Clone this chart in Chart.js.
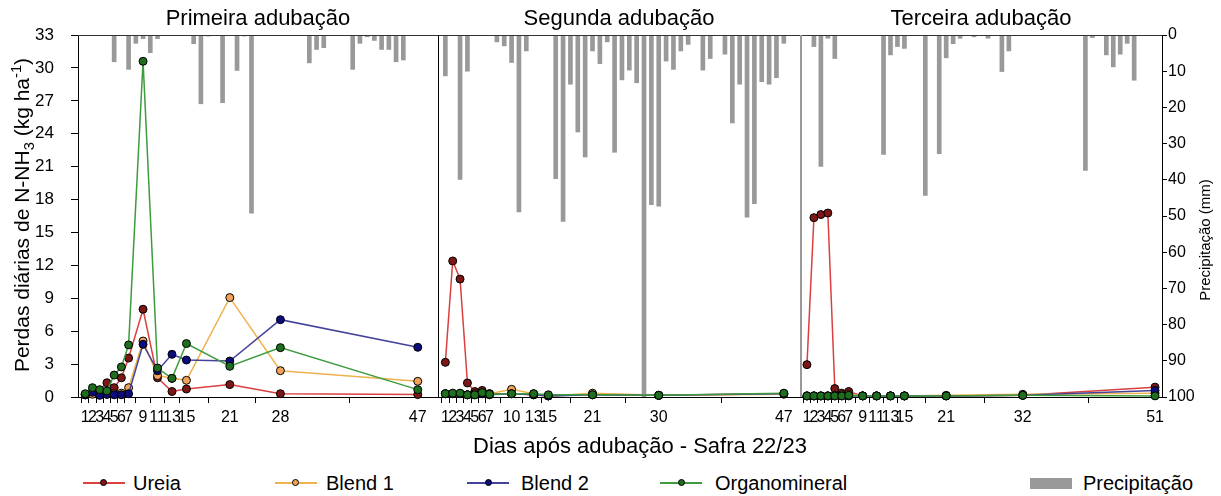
<!DOCTYPE html>
<html>
<head>
<meta charset="utf-8">
<script src="https://cdn.jsdelivr.net/npm/chart.js@4.4.0/dist/chart.umd.min.js"></script>
<style>
  body { margin: 0; background: #fff; font-family: "Liberation Sans", Arial, sans-serif; }
  #wrap { position: relative; width: 1221px; height: 496px; overflow: hidden; }
  canvas { position: absolute; top: 0; }
  .t { position: absolute; white-space: nowrap; color: #000; }
  .title { top: 5px; width: 300px; text-align: center; font-size: 22px; line-height: 26px; }
  .rot { transform: rotate(-90deg); text-align: center; }
  .rot sub, .rot sup { font-size: 70%; line-height: 0; }
  .leg { position: absolute; top: 471px; font-size: 20px; line-height: 24px; }
  .ln { position: absolute; width: 42px; height: 2px; top: 482px; }
  .dot { position: absolute; width: 5px; height: 5px; border-radius: 50%; border: 1px solid #000; top: 479px; }
</style>
</head>
<body>
<div id="wrap">
  <canvas id="c1" width="438" height="440" style="left:0"></canvas>
  <canvas id="c2" width="362" height="440" style="left:438px"></canvas>
  <canvas id="c3" width="421" height="440" style="left:800px"></canvas>

  <div class="t title" style="left:108px">Primeira adubação</div>
  <div class="t title" style="left:469px">Segunda adubação</div>
  <div class="t title" style="left:831px">Terceira adubação</div>

  <div class="t rot" style="left:-178px; top:203px; width:400px; height:24px; font-size:21px; line-height:24px">Perdas diárias de N-NH<sub>3</sub> (kg ha<sup>-1</sup>)</div>
  <div class="t rot" style="left:1105px; top:231px; width:200px; height:18px; font-size:15px; line-height:18px">Precipitação (mm)</div>
  <div class="t" style="left:440px; top:433px; width:400px; text-align:center; font-size:22px; line-height:26px">Dias após adubação - Safra 22/23</div>

  <div class="ln" style="left:83px; background:#d9403f"></div><div class="dot" style="left:100px; background:#7d1616"></div>
  <div class="leg" style="left:133px">Ureia</div>
  <div class="ln" style="left:275px; background:#f0b24e"></div><div class="dot" style="left:292px; background:#f2a35a"></div>
  <div class="leg" style="left:326px">Blend 1</div>
  <div class="ln" style="left:467px; background:#43439c"></div><div class="dot" style="left:485px; background:#0c0c7c"></div>
  <div class="leg" style="left:521px">Blend 2</div>
  <div class="ln" style="left:660px; background:#3e9b3e"></div><div class="dot" style="left:678px; background:#1f6d1f"></div>
  <div class="leg" style="left:715px">Organomineral</div>
  <div style="position:absolute; left:1030px; top:478px; width:42px; height:11px; background:#999"></div>
  <div class="leg" style="left:1083px">Precipitação</div>
</div>

<script>
// Primeira adubação
var days1    = [1, 2, 3, 4, 5, 6, 7, 9, 11, 13, 15, 21, 28, 47];
var ureiaP1  = [0.2, 0.5, 0.6, 1.3, 0.85, 1.75, 3.55, 8.0, 1.75, 0.5, 0.73, 1.13, 0.3, 0.22];
var blend1P1 = [0.2, 0.25, 0.2, 0.25, 0.3, 0.35, 0.85, 5.1, 1.95, 1.7, 1.52, 9.06, 2.4, 1.43];
var blend2P1 = [0.2, 0.43, 0.15, 0.24, 0.2, 0.2, 0.3, 4.8, 2.4, 3.89, 3.37, 3.28, 7.05, 4.53];
var organoP1 = [0.3, 0.85, 0.67, 0.55, 2.0, 2.74, 4.75, 30.6, 2.64, 1.7, 4.87, 2.8, 4.5, 0.67];
var rainDays1 = [5, 7, 8, 9, 10, 11, 16, 17, 18, 20, 22, 23, 24, 32, 33, 34, 38, 39, 40, 41, 42, 43, 44, 45];
var rain1     = [7.4, 9.5, 2.3, 1.0, 4.9, 1.0, 2.4, 19.0, 0.3, 18.7, 9.8, 0.3, 49.2, 7.7, 4.0, 3.5, 9.5, 2.3, 0.5, 1.5, 4.0, 4.0, 7.4, 6.9];

// Segunda adubação
var days2    = [1, 2, 3, 4, 5, 6, 7, 10, 13, 15, 21, 30, 47];
var ureiaP2  = [3.16, 12.4, 10.75, 1.28, 0.5, 0.6, 0.3, 0.3, 0.2, 0.1, 0.25, 0.15, 0.3];
var blend1P2 = [0.3, 0.3, 0.3, 0.2, 0.3, 0.4, 0.3, 0.7, 0.3, 0.1, 0.35, 0.15, 0.25];
var blend2P2 = [0.3, 0.3, 0.3, 0.2, 0.2, 0.3, 0.2, 0.3, 0.2, 0.1, 0.2, 0.15, 0.3];
var organoP2 = [0.3, 0.35, 0.35, 0.2, 0.2, 0.4, 0.25, 0.3, 0.3, 0.2, 0.2, 0.15, 0.35];
var rainDays2 = [1, 3, 4, 8, 9, 10, 11, 12, 16, 17, 18, 19, 20, 21, 22, 23, 24, 25, 26, 27, 28, 29, 30, 31, 32, 33, 34, 36, 37, 39, 40, 41, 42, 43, 44, 45, 46, 47];
var rain2     = [11.3, 39.9, 10.0, 1.9, 3.0, 7.6, 48.9, 4.4, 39.7, 51.5, 13.6, 26.8, 33.7, 4.4, 7.9, 1.9, 32.4, 12.4, 9.7, 13.2, 100, 46.9, 47.3, 7.2, 9.5, 4.4, 2.6, 9.7, 6.5, 5.3, 24.3, 13.6, 50.3, 46.6, 12.9, 13.6, 11.8, 2.3];

// Terceira adubação
var days3    = [1, 2, 3, 4, 5, 6, 7, 9, 11, 13, 15, 21, 32, 51];
var ureiaP3  = [2.95, 16.35, 16.63, 16.77, 0.77, 0.35, 0.5, 0.1, 0.1, 0.1, 0.1, 0.1, 0.15, 0.9];
var blend1P3 = [0.1, 0.1, 0.1, 0.1, 0.15, 0.2, 0.25, 0.1, 0.1, 0.1, 0.1, 0.15, 0.25, 0.35];
var blend2P3 = [0.1, 0.1, 0.1, 0.1, 0.1, 0.1, 0.1, 0.1, 0.1, 0.1, 0.1, 0.1, 0.15, 0.6];
var organoP3 = [0.1, 0.1, 0.1, 0.1, 0.1, 0.1, 0.15, 0.1, 0.1, 0.1, 0.1, 0.1, 0.15, 0.1];
var rainDays3 = [2, 3, 4, 5, 12, 13, 14, 15, 18, 20, 21, 22, 23, 25, 27, 29, 30, 41, 42, 44, 45, 46, 47, 48];
var rain3     = [3.2, 36.3, 0.9, 6.5, 33.0, 5.5, 3.2, 3.7, 44.3, 32.8, 6.3, 2.4, 0.9, 0.5, 0.9, 10.1, 4.4, 37.4, 0.7, 5.5, 8.8, 5.3, 2.3, 12.5];

Chart.defaults.font.family = '"Liberation Sans", Arial, sans-serif';
Chart.defaults.color = '#000';

var framePlugin = {
  id: 'frame',
  afterDraw: function(chart, args, opts) {
    var a = chart.chartArea, ctx = chart.ctx;
    ctx.save();
    ctx.strokeStyle = '#333';
    ctx.lineWidth = 1;
    ctx.beginPath();
    ctx.moveTo(a.left, a.top + 0.5);
    ctx.lineTo(a.right, a.top + 0.5);
    ctx.stroke();
    if (opts.leftColor) {
      ctx.strokeStyle = opts.leftColor;
      ctx.lineWidth = opts.leftWidth;
      ctx.beginPath();
      ctx.moveTo(a.left + opts.leftWidth / 2, a.top);
      ctx.lineTo(a.left + opts.leftWidth / 2, a.bottom);
      ctx.stroke();
    }
    ctx.restore();
  }
};

function points(days, vals) {
  return days.map(function(d, i) { return { x: d, y: vals[i] }; });
}

function lineSet(label, days, vals, line, fill, order) {
  return {
    type: 'line', label: label, data: points(days, vals), yAxisID: 'y',
    borderColor: line, backgroundColor: fill, borderWidth: 1.5,
    pointRadius: 4, pointBackgroundColor: fill, pointBorderColor: '#000', pointBorderWidth: 1,
    tension: 0, order: order, clip: false
  };
}

function fixWidth(w) {
  return function(s) {
    if (!s.options.display) { return; }
    s.width = w; s.paddingTop = 0; s.paddingBottom = 0;
  };
}

function panel(id, days, ureia, blend1, blend2, organo, rainDays, rain, xMax, showLeft, showRight, leftColor, leftWidth) {
  new Chart(document.getElementById(id), {
    type: 'line',
    data: {
      datasets: [
        lineSet('Organomineral', days, organo, '#3e9b3e', '#1f6d1f', 1),
        lineSet('Blend 2', days, blend2, '#43439c', '#0c0c7c', 2),
        lineSet('Blend 1', days, blend1, '#f0b24e', '#f2a35a', 3),
        lineSet('Ureia', days, ureia, '#d9403f', '#7d1616', 4),
        {
          type: 'bar', label: 'Precipitação', data: points(rainDays, rain), yAxisID: 'y2',
          backgroundColor: '#999', barThickness: 4, order: 10
        }
      ]
    },
    options: {
      responsive: false,
      animation: false,
      devicePixelRatio: 1,
      layout: { autoPadding: false, padding: { top: 35, left: 0, right: 0, bottom: 0 } },
      plugins: {
        legend: { display: false },
        tooltip: { enabled: false },
        frame: { leftColor: leftColor, leftWidth: leftWidth }
      },
      scales: {
        x: {
          type: 'linear', min: 0, max: xMax, offset: false,
          afterBuildTicks: function(s) { s.ticks = days.map(function(d) { return { value: d }; }); },
          ticks: { autoSkip: false, maxRotation: 0, minRotation: 0, padding: 5, font: { size: 16 }, color: '#000' },
          grid: { drawOnChartArea: false, drawTicks: true, tickLength: 6, color: '#000' },
          border: { color: '#000' },
          afterFit: function(s) { s.height = 43; s.paddingLeft = 0; s.paddingRight = 0; }
        },
        y: {
          display: showLeft, position: 'left', min: 0, max: 33,
          ticks: { stepSize: 3, padding: 17, font: { size: 17 }, color: '#000' },
          grid: { drawOnChartArea: false, tickLength: 7, color: '#000' },
          border: { color: '#000' },
          afterFit: fixWidth(78)
        },
        y2: {
          display: showRight, position: 'right', reverse: true, min: 0, max: 100,
          ticks: { stepSize: 10, padding: 1, font: { size: 16 }, color: '#000' },
          grid: { drawOnChartArea: false, tickLength: 5, color: '#000' },
          border: { color: '#000' },
          afterFit: fixWidth(59)
        }
      }
    },
    plugins: [framePlugin]
  });
}

panel('c1', days1, ureiaP1, blend1P1, blend2P1, organoP1, rainDays1, rain1, 49.8, true, false, null, 1);
panel('c2', days2, ureiaP2, blend1P2, blend2P2, organoP2, rainDays2, rain2, 49.2, false, false, '#000', 1);
panel('c3', days3, ureiaP3, blend1P3, blend2P3, organoP3, rainDays3, rain3, 52, false, true, '#999', 2);
</script>
</body>
</html>
